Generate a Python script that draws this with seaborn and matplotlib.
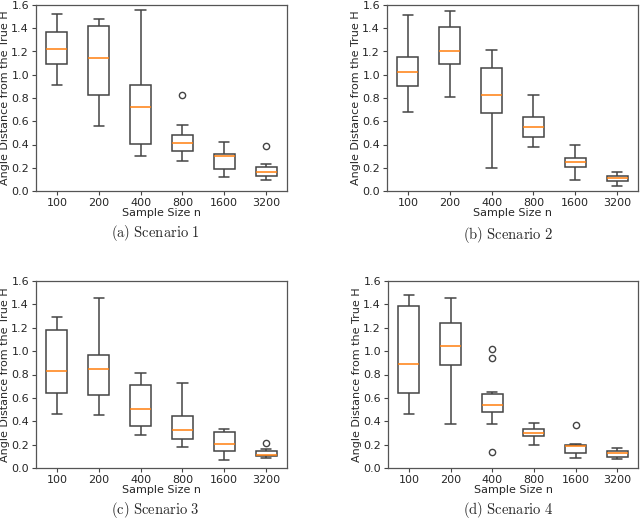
import numpy as np
import pandas as pd

import matplotlib
matplotlib.use('Agg')
import matplotlib.pyplot as plt
import seaborn as sns

## DATA
sample_sizes = ['100', '200', '400', '800', '1600', '3200']
captions = ['(a) Scenario 1', '(b) Scenario 2', '(c) Scenario 3', '(d) Scenario 4']

# scenario 1
lo_1 = [0.91, 0.555, 0.298, 0.258, 0.123, 0.094]
q1_1 = [1.09, 0.83, 0.404, 0.343, 0.186, 0.129]
med_1 = [1.22, 1.148, 0.721, 0.415, 0.30, 0.16]
q3_1 = [1.37, 1.417, 0.91, 0.484, 0.32, 0.203]
hi_1 = [1.52, 1.477, 1.554, 0.572, 0.421, 0.229]
out_1 = [[], [], [], [0.824], [], [0.386]]

# scenario 2
lo_2 = [0.681, 0.807, 0.20, 0.381, 0.094, 0.046]
q1_2 = [0.90, 1.096, 0.673, 0.464, 0.203, 0.086]
med_2 = [1.027, 1.208, 0.827, 0.55, 0.246, 0.112]
q3_2 = [1.153, 1.411, 1.059, 0.638, 0.286, 0.132]
hi_2 = [1.514, 1.545, 1.211, 0.827, 0.398, 0.16]
out_2 = [[], [], [], [], [], []]

# scenario 3
lo_3 = [0.458, 0.455, 0.282, 0.177, 0.071, 0.088]
q1_3 = [0.641, 0.626, 0.359, 0.245, 0.148, 0.102]
med_3 = [0.834, 0.843, 0.501, 0.322, 0.208, 0.111]
q3_3 = [1.181, 0.971, 0.712, 0.447, 0.307, 0.142]
hi_3 = [1.29, 1.455, 0.814, 0.726, 0.33, 0.159]
out_3 = [[], [], [], [], [], [0.216]]

# scenario 4
lo_4 = [0.464, 0.376, 0.379, 0.199, 0.083, 0.077]
q1_4 = [0.638, 0.88, 0.478, 0.276, 0.128, 0.097]
med_4 = [0.888, 1.048, 0.535, 0.296, 0.191, 0.131]
q3_4 = [1.386, 1.238, 0.629, 0.333, 0.199, 0.148]
hi_4 = [1.483, 1.458, 0.646, 0.381, 0.205, 0.168]
out_4 = [[], [], [0.14, 0.945, 1.019], [], [0.364], []]

scenarios = [
    (lo_1, q1_1, med_1, q3_1, hi_1, out_1),
    (lo_2, q1_2, med_2, q3_2, hi_2, out_2),
    (lo_3, q1_3, med_3, q3_3, hi_3, out_3),
    (lo_4, q1_4, med_4, q3_4, hi_4, out_4),
]


## FUNCTIONS
# build a 13-point sample per group whose quartiles / whiskers match the summary
def make_long_df(lo, q1, med, q3, hi, out):
    rows = []
    for i, n in enumerate(sample_sizes):
        low_out = sorted(v for v in out[i] if v < q1[i])
        high_out = sorted(v for v in out[i] if v > q3[i])
        below = low_out + [lo[i]] * (3 - len(low_out))
        above = [hi[i]] * (3 - len(high_out)) + high_out
        vals = below + [q1[i], q1[i], q1[i], med[i], q3[i], q3[i], q3[i]] + above
        rows += [(n, v) for v in vals]
    return pd.DataFrame(rows, columns=['n', 'dist'])


def draw_panel(ax, df):
    sns.boxplot(data=df, x='n', y='dist', order=sample_sizes, ax=ax,
                width=0.5, color='white', linecolor='#444444', linewidth=1.1,
                medianprops={'color': '#ff7f0e', 'linewidth': 1.1},
                flierprops={'marker': 'o', 'markersize': 4.5,
                            'markerfacecolor': 'none',
                            'markeredgecolor': '#444444'})
    ax.set_ylim(0, 1.6)
    ax.set_yticks(np.arange(0, 1.61, 0.2))
    ax.set_xlabel('Sample Size n', fontsize=8, labelpad=0)
    ax.set_ylabel('Angle Distance from the True H', fontsize=8, labelpad=1)
    ax.tick_params(labelsize=8, length=3, width=0.8, pad=2, color='#444444',
                   left=True, bottom=True)
    for s in ax.spines.values():
        s.set_color('#555555')
        s.set_linewidth(0.9)


## PLOT
sns.set_style('white')
plt.rcParams['mathtext.fontset'] = 'cm'

fig = plt.figure(figsize=(6.4, 5.2), dpi=100)
rects = [
    [36 / 640, 329 / 520, 251 / 640, 186 / 520],
    [387 / 640, 329 / 520, 251 / 640, 186 / 520],
    [36 / 640, 52 / 520, 251 / 640, 187 / 520],
    [388 / 640, 52 / 520, 250 / 640, 187 / 520],
]
cap_pos = [(155, 233), (508, 235), (155, 510), (508, 510)]

for rect, summ, cap, (cx, cy) in zip(rects, scenarios, captions, cap_pos):
    ax = fig.add_axes(rect)
    draw_panel(ax, make_long_df(*summ))
    fig.text(cx / 640, 1 - cy / 520, '$\\mathrm{' + cap.replace(' ', '\\ ') + '}$',
             ha='center', va='center', fontsize=10.5)

fig.savefig('out.png', dpi=100)
